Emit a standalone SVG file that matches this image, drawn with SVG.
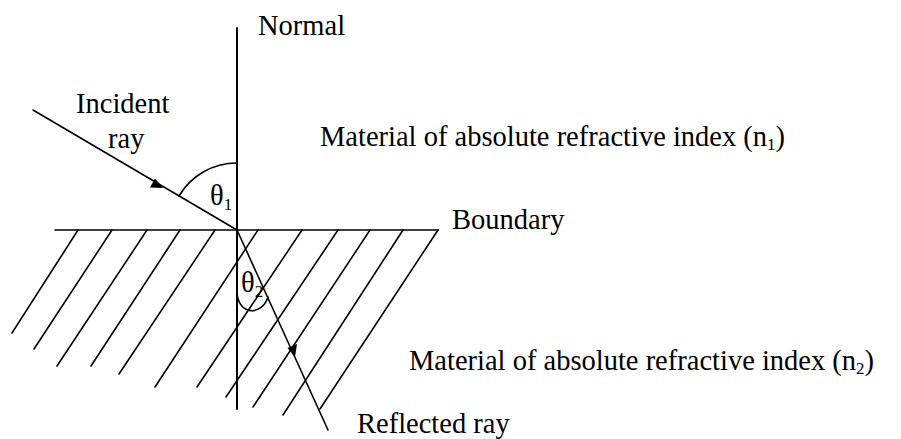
<svg xmlns="http://www.w3.org/2000/svg" width="901" height="439" viewBox="0 0 901 439">
<style>
.ln{stroke:#000;stroke-width:1.6;fill:none;stroke-linecap:round}
.t{font-family:"Liberation Serif","Times New Roman",serif;font-size:28.5px;fill:#000}
.sub{font-size:17px}
</style>
<rect width="901" height="439" fill="#fff"/>
<g id="hatching" class="ln">
<line x1="78" y1="230" x2="12" y2="333"/>
<line x1="112" y1="230" x2="34" y2="349"/>
<line x1="147" y1="230" x2="57" y2="366"/>
<line x1="180" y1="230" x2="91" y2="366"/>
<line x1="215" y1="230" x2="119" y2="374"/>
<line x1="258" y1="230" x2="155" y2="387"/>
<line x1="302" y1="230" x2="197" y2="387"/>
<line x1="338" y1="230" x2="226" y2="397"/>
<line x1="370" y1="230" x2="253" y2="407"/>
<line x1="403" y1="230" x2="283" y2="415"/>
<line x1="438" y1="230" x2="320" y2="409"/>
</g>
<g id="boundary">
<line class="ln" x1="55" y1="230" x2="438" y2="230"/>
<text class="t" x="452" y="229">Boundary</text>
</g>
<g id="normal">
<line class="ln" x1="237" y1="28" x2="237" y2="409" style="stroke-width:2"/>
<text class="t" x="258" y="35">Normal</text>
</g>
<g id="connectors">
<g id="incident-ray">
<line class="ln" x1="33" y1="110" x2="237" y2="230"/>
<polygon points="163,188 150,187.5 155,178.5" fill="#000"/>
</g>
<g id="refracted-ray">
<line class="ln" x1="237" y1="230" x2="328" y2="430"/>
<polygon points="295,357 287.5,348 297,344" fill="#000"/>
</g>
</g>
<g id="angle1">
<path class="ln" d="M237,163 A67,67 0 0 0 179,196"/>
<text class="t" x="210" y="205">θ<tspan class="sub" dy="5">1</tspan></text>
</g>
<g id="angle2">
<path class="ln" d="M237,292 C238,316 262,316 268,297"/>
<text class="t" x="241" y="292">θ<tspan class="sub" dy="5">2</tspan></text>
</g>
<g id="labels">
<text class="t" x="76" y="113">Incident</text>
<text class="t" x="108" y="148">ray</text>
<text class="t" x="320" y="146">Material of absolute refractive index (n<tspan class="sub" dy="4">1</tspan><tspan dy="-4">)</tspan></text>
<text class="t" x="409" y="370">Material of absolute refractive index (n<tspan class="sub" dy="4">2</tspan><tspan dy="-4">)</tspan></text>
<text class="t" x="357" y="433">Reflected ray</text>
</g>
</svg>
